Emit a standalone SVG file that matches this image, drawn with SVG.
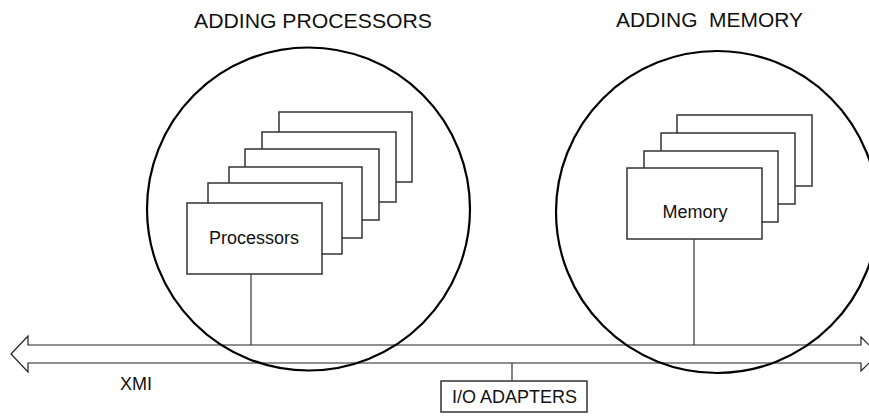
<svg xmlns="http://www.w3.org/2000/svg" width="869" height="417" viewBox="0 0 869 417">
  <style>
    .bg { fill: #ffffff; }
    .ring { fill: none; stroke: #000; stroke-width: 2.2; }
    .card { fill: #ffffff; stroke: #333; stroke-width: 1.5; }
    .conn { fill: none; stroke: #333; stroke-width: 1.2; }
    .bus { fill: none; stroke: #222; stroke-width: 1.2; }
    .t { font-family: "Liberation Sans", Arial, sans-serif; fill: #111; }
    .title { font-size: 21px; white-space: pre; }
    .lbl { font-size: 18px; }
  </style>
  <rect class="bg" x="0" y="0" width="869" height="417"/>

  <g id="title-processors">
    <text class="t title" x="194" y="28" textLength="238" lengthAdjust="spacingAndGlyphs">ADDING PROCESSORS</text>
  </g>
  <g id="title-memory">
    <text class="t title" x="616" y="27" textLength="187" lengthAdjust="spacingAndGlyphs" xml:space="preserve">ADDING  MEMORY</text>
  </g>

  <g id="bus-xmi">
    <polygon class="bus" points="11,354 28,336 28,345 861,345 861,337 878,354 861,371 861,363 28,363 28,372"/>
    <text class="t lbl" x="120" y="390">XMI</text>
  </g>

  <g id="processors">
    <rect class="card" x="279" y="112" width="133" height="70"/>
    <rect class="card" x="262" y="132" width="134" height="70"/>
    <rect class="card" x="245" y="149" width="134" height="71"/>
    <rect class="card" x="229" y="167" width="133" height="71"/>
    <rect class="card" x="208" y="183" width="134" height="71"/>
    <rect class="card" x="187" y="203" width="135" height="71"/>
    <text class="t lbl" x="254" y="244" text-anchor="middle">Processors</text>
  </g>

  <g id="memory">
    <rect class="card" x="677" y="115" width="135" height="71"/>
    <rect class="card" x="661" y="133" width="134" height="71"/>
    <rect class="card" x="644" y="151" width="134" height="71"/>
    <rect class="card" x="627" y="168" width="135" height="71"/>
    <text class="t lbl" x="695" y="218" text-anchor="middle">Memory</text>
  </g>

  <g id="io-adapters">
    <rect class="card" x="441" y="381" width="146" height="31"/>
    <text class="t lbl" x="452" y="403">I/O ADAPTERS</text>
  </g>

  <g id="connectors">
    <line class="conn" x1="251" y1="274" x2="251" y2="345"/>
    <line class="conn" x1="694" y1="239" x2="694" y2="345"/>
    <line class="conn" x1="512" y1="363" x2="512" y2="381"/>
  </g>

  <g id="scope-processors">
    <circle class="ring" cx="308.5" cy="209" r="161.5"/>
  </g>
  <g id="scope-memory">
    <circle class="ring" cx="717" cy="212" r="161"/>
  </g>
</svg>
